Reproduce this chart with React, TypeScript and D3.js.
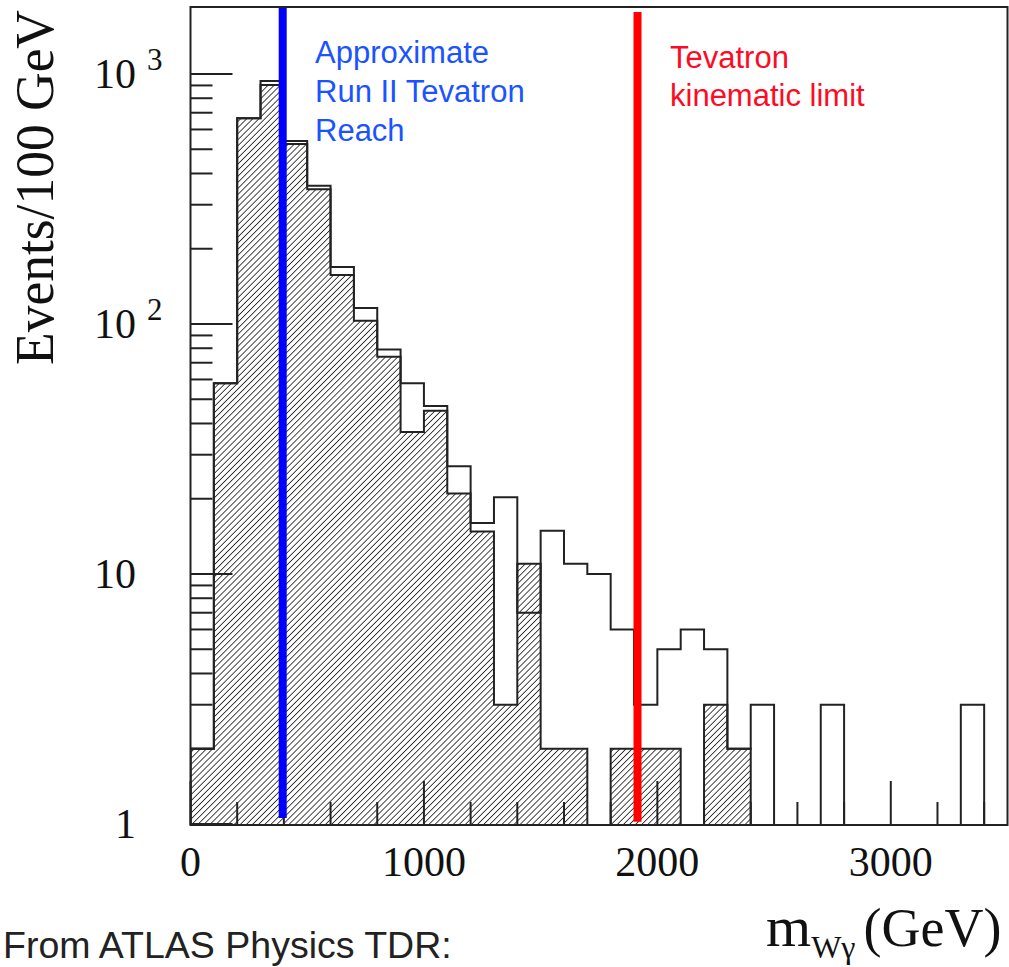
import React from "react";
import * as d3 from "d3";

// ---- data ----
const binWidth = 100; // GeV
const binStarts = d3.range(0, 3500, 100);
const openCounts = [2, 58, 665, 937, 540, 357, 169, 116, 79, 58, 47, 27, 16, 20.3, 7, 14.9, 11, 10, 6, 3, 5, 6, 5, 2, 3, 0, 0, 3, 0, 0, 0, 0, 0, 3, 0];
const hatchedCounts = [2, 58, 665, 903, 525, 346, 157, 103, 74, 37, 45, 21, 14.8, 3, 11, 2, 2, 0, 2, 2, 2, 0, 3, 2, 0, 0, 0, 0, 0, 0, 0, 0, 0, 0, 0];
const xTickLabels = [0, 1000, 2000, 3000];
const yDecades = [1, 10, 100, 1000];
const markers = [
  { name: "reach", x: 395, yTop: 1850, yBottom: 1.057, color: "#0000ff" },
  { name: "limit", x: 1915, yTop: 1770, yBottom: 1.02, color: "#ff0000" },
];
const blueText = ["Approximate", "Run II Tevatron", "Reach"];
const redText = ["Tevatron", "kinematic limit"];

const W = 1009, H = 967;
const left = 190.5, right = 1007.5, top = 7, bottom = 825;

export default function App() {
  const x = d3.scaleLinear().domain([0, 3500]).range([left, right]);
  const y = d3.scaleLog().domain([1, 1000]).range([824, 74]);
  const yv = (v: number) => (v > 0 ? Math.min(bottom, y(v)) : bottom);

  const stepPath = (vals: number[], close: boolean) => {
    let p = `M${x(0)},${bottom}`;
    vals.forEach((v, i) => {
      const x0 = x(binStarts[i]);
      const x1 = x(binStarts[i] + binWidth);
      p += `L${x0},${yv(v)}L${x1},${yv(v)}`;
    });
    p += `L${x(3500)},${bottom}`;
    if (close) p += "Z";
    return p;
  };

  const serif = "'Liberation Serif', 'Times New Roman', serif";
  const sans = "'Liberation Sans', Arial, sans-serif";

  const minorY: number[] = [];
  [1, 10, 100, 1000].forEach((d) => {
    for (let k = 2; k <= 9; k++) {
      const v = d * k;
      if (v <= 1850) minorY.push(v);
    }
  });
  const xMinor = d3.range(0, 3501, 200).filter((v) => v % 1000 !== 0);
  const xMajor = d3.range(0, 3501, 1000);

  return (
    <svg width={W} height={H} style={{ position: "absolute", left: 0, top: 0, background: "#fff" }}>
      <defs>
        <pattern id="hatch" patternUnits="userSpaceOnUse" width={4.3} height={4.3} patternTransform="rotate(45)">
          <rect width={4.3} height={4.3} fill="#fff" />
          <line x1={0} y1={0} x2={0} y2={4.3} stroke="#1a1a1a" strokeWidth={1.6} />
        </pattern>
        <clipPath id="plotclip">
          <rect x={left} y={top} width={right - left} height={bottom - top} />
        </clipPath>
      </defs>
      <rect x={0} y={0} width={W} height={H} fill="#fff" />

      <g clipPath="url(#plotclip)">
        <path d={stepPath(hatchedCounts, true)} fill="url(#hatch)" stroke="none" />
        <path d={stepPath(hatchedCounts, false)} fill="none" stroke="#222" strokeWidth={2} />
        <path d={stepPath(openCounts, false)} fill="none" stroke="#222" strokeWidth={2} />
      </g>

      {/* y ticks */}
      {yDecades.map((v) => (
        <line key={"ym" + v} x1={left} x2={left + 42} y1={y(v)} y2={y(v)} stroke="#222" strokeWidth={2} />
      ))}
      {minorY.map((v) => (
        <line key={"yn" + v} x1={left} x2={left + 22} y1={y(v)} y2={y(v)} stroke="#222" strokeWidth={2} />
      ))}
      {/* x ticks */}
      {xMajor.map((v) => (
        <line key={"xm" + v} x1={x(v)} x2={x(v)} y1={bottom} y2={bottom - 44} stroke="#222" strokeWidth={2} />
      ))}
      {xMinor.map((v) => (
        <line key={"xn" + v} x1={x(v)} x2={x(v)} y1={bottom} y2={bottom - 23} stroke="#222" strokeWidth={2} />
      ))}

      {/* marker lines */}
      {markers.map((m) => (
        <line key={m.name} x1={x(m.x)} x2={x(m.x)} y1={Math.max(top, y(m.yTop))} y2={y(m.yBottom)} stroke={m.color} strokeWidth={8} />
      ))}

      {/* frame */}
      <rect x={left} y={top} width={right - left} height={bottom - top} fill="none" stroke="#222" strokeWidth={2} />

      {/* y tick labels */}
      {yDecades.map((v) => {
        const e = Math.round(Math.log10(v));
        const txt = e === 0 ? "1" : "10";
        return (
          <g key={"yl" + v}>
            <text x={136} y={y(v) + 14} textAnchor="end" fontFamily={serif} fontSize={42} fill="#111">{txt}</text>
            {e >= 2 && (
              <text x={147} y={y(v) - 4} fontFamily={serif} fontSize={31} fill="#111">{e}</text>
            )}
          </g>
        );
      })}

      {/* x tick labels */}
      {xTickLabels.map((v) => (
        <text key={"xl" + v} x={x(v)} y={876} textAnchor="middle" fontFamily={serif} fontSize={42} fill="#111">{v}</text>
      ))}

      {/* y axis title */}
      <text transform="translate(53,365) rotate(-90)" fontFamily={serif} fontSize={54} fill="#111" textLength={355} lengthAdjust="spacingAndGlyphs">Events/100 GeV</text>

      {/* x axis title */}
      <text x={766} y={946} fontFamily={serif} fontSize={58} fill="#111">
        m<tspan fontSize={32} dy={12}>Wγ</tspan><tspan dy={-12} dx={8} fontSize={54}>(GeV)</tspan>
      </text>

      {/* annotations */}
      {blueText.map((t, i) => (
        <text key={"b" + i} x={315} y={63 + i * 39} fontFamily={sans} fontSize={31} fill="#1a53ff">{t}</text>
      ))}
      {redText.map((t, i) => (
        <text key={"r" + i} x={670} y={68 + i * 38} fontFamily={sans} fontSize={31} fill="#ff0a24">{t}</text>
      ))}

      <text x={3} y={958} fontFamily={sans} fontSize={37.5} fill="#222">From ATLAS Physics TDR:</text>
    </svg>
  );
}
